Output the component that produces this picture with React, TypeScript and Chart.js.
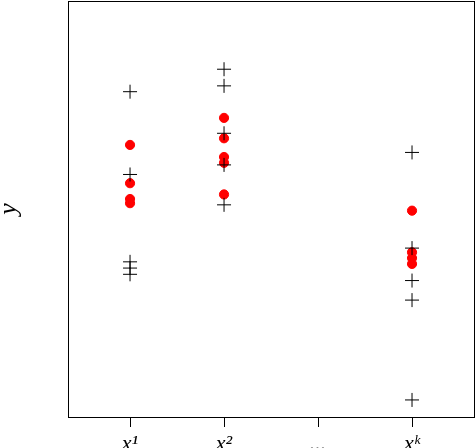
import React, { useEffect, useRef } from "react";
import { Chart, registerables } from "chart.js";

Chart.register(...registerables);

const tickLabels = ["x¹", "x²", "...", "xᵏ"];
const groupPositions = [1, 2, 3, 4];

// observed values (crosses)
const crossG1 = [7.82, 5.83, 3.73, 3.58, 3.43];
const crossG2 = [8.36, 7.96, 6.82, 6.06, 5.1];
const crossGk = [6.36, 4.06, 3.28, 2.81, 0.41];

// predicted values (red dots)
const dotG1 = [6.54, 5.62, 5.24, 5.14];
const dotG2 = [7.19, 6.7, 6.25, 6.11, 5.35];
const dotGk = [4.96, 3.96, 3.82, 3.68];

const yAxisTitle = "y";

function toPoints(x: number, ys: number[]) {
  return ys.map((y) => ({ x, y }));
}

const boxPlugin = {
  id: "boxFrame",
  afterDraw(chart: any) {
    const { ctx, chartArea } = chart;
    ctx.save();
    ctx.strokeStyle = "#000";
    ctx.lineWidth = 1;
    ctx.strokeRect(
      chartArea.left + 0.5,
      chartArea.top + 0.5,
      chartArea.right - chartArea.left - 1,
      chartArea.bottom - chartArea.top
    );
    ctx.restore();
  },
};

export default function App() {
  const ref = useRef<HTMLCanvasElement | null>(null);
  useEffect(() => {
    if (!ref.current) return;
    const crosses = [
      ...toPoints(groupPositions[0], crossG1),
      ...toPoints(groupPositions[1], crossG2),
      ...toPoints(groupPositions[3], crossGk),
    ];
    const dots = [
      ...toPoints(groupPositions[0], dotG1),
      ...toPoints(groupPositions[1], dotG2),
      ...toPoints(groupPositions[3], dotGk),
    ];
    const chart = new Chart(ref.current, {
      type: "scatter",
      data: {
        datasets: [
          {
            label: "observed",
            data: crosses,
            pointStyle: "cross",
            pointRadius: 7,
            borderColor: "#000",
            borderWidth: 1,
            backgroundColor: "#000",
          },
          {
            label: "predicted",
            data: dots,
            pointStyle: "circle",
            pointRadius: 4.6,
            borderColor: "#ff0000",
            borderWidth: 1,
            backgroundColor: "#ff0000",
          },
        ],
      },
      options: {
        animation: false,
        responsive: false,
        maintainAspectRatio: false,
        layout: { autoPadding: false, padding: { top: 1, right: 1, left: 0, bottom: 0 } },
        plugins: {
          legend: { display: false },
          tooltip: { enabled: false },
        },
        scales: {
          x: {
            type: "linear",
            min: 0.34,
            max: 4.67,
            afterBuildTicks: (scale: any) => {
              scale.ticks = groupPositions.map((v) => ({ value: v }));
            },
            afterFit: (scale: any) => {
              scale.height = 31;
            },
            border: { display: false },
            grid: {
              display: true,
              drawOnChartArea: false,
              drawTicks: true,
              tickLength: 10,
              tickColor: "#000",
              color: "#000",
              lineWidth: 1,
            },
            ticks: {
              color: "#000",
              padding: 4,
              maxRotation: 0,
              autoSkip: false,
              font: { family: "'Liberation Serif', 'DejaVu Serif', serif", style: "italic", size: 22 },
              callback: (v: any) => {
                const i = groupPositions.indexOf(Number(v));
                return i >= 0 ? tickLabels[i] : "";
              },
            },
          },
          y: {
            type: "linear",
            min: 0,
            max: 10,
            afterFit: (scale: any) => {
              scale.width = 68;
            },
            border: { display: false },
            grid: { display: false },
            ticks: { display: false },
            title: {
              display: true,
              text: yAxisTitle,
              color: "#000",
              padding: { top: -6, bottom: 0 },
              font: { family: "'Liberation Serif', 'DejaVu Serif', serif", style: "italic", size: 26 },
            },
          },
        },
      },
      plugins: [boxPlugin],
    });
    return () => chart.destroy();
  }, []);
  return (
    <div style={{ position: "fixed", left: 0, top: 0, width: 476, height: 448, background: "#fff" }}>
      <canvas ref={ref} width={476} height={448} style={{ width: 476, height: 448 }} />
    </div>
  );
}
